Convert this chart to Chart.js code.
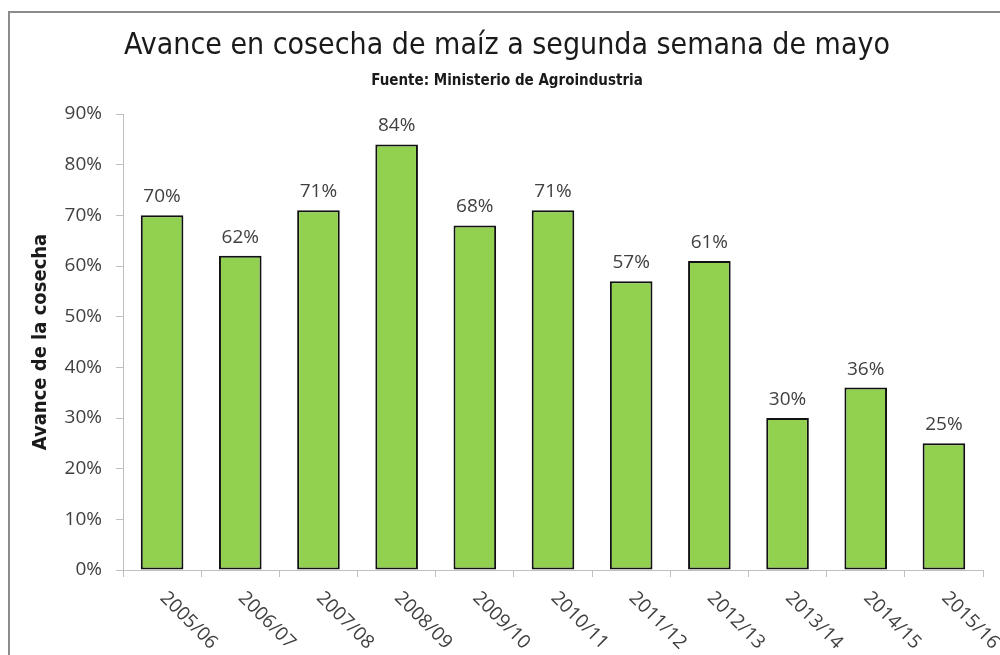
<!DOCTYPE html>
<html>
<head>
<meta charset="utf-8">
<script src="https://cdn.jsdelivr.net/npm/chart.js@4.4.0/dist/chart.umd.min.js"></script>
<style>
  html, body { margin: 0; padding: 0; background: #fff; }
  #wrap { width: 1000px; height: 655px; position: relative; }
</style>
</head>
<body>
<div id="wrap"><canvas id="maizChart"></canvas></div>
<script>
var campanias = ['2005/06', '2006/07', '2007/08', '2008/09', '2009/10', '2010/11', '2011/12', '2012/13', '2013/14', '2014/15', '2015/16'];
var avance = [70, 62, 71, 84, 68, 71, 57, 61, 30, 36, 25];
var yTicks = [0, 10, 20, 30, 40, 50, 60, 70, 80, 90];

var narrow = '"Liberation Sans Narrow", "DejaVu Sans Condensed", "Roboto Condensed", sans-serif';
var textFont = '"Open Sans", "Liberation Sans", sans-serif';
var gris = '#404040';

// marco gris alrededor del grafico
var marco = {
    id: 'marco',
    beforeDraw: function(chart){
        var ctx = chart.ctx;
        ctx.save();
        ctx.strokeStyle = '#8c8c8c';
        ctx.lineWidth = 2;
        ctx.strokeRect(9, 12, 1000, 700);
        ctx.restore();
    }
};

// etiquetas de valor encima de cada barra
var etiquetas = {
    id: 'etiquetas',
    afterDatasetsDraw: function(chart){
        var ctx = chart.ctx;
        var meta = chart.getDatasetMeta(0);
        ctx.save();
        ctx.font = '19px ' + textFont;
        ctx.fillStyle = gris;
        ctx.textAlign = 'center';
        ctx.textBaseline = 'alphabetic';
        meta.data.forEach(function(bar, i){
            ctx.fillText(avance[i] + '%', bar.x, bar.y - 13);
        });
        ctx.restore();
    }
};

// etiquetas del eje x giradas 45 grados hacia abajo
var ejeX = {
    id: 'ejeX',
    afterDraw: function(chart){
        var ctx = chart.ctx;
        var x = chart.scales.x;
        ctx.save();
        ctx.font = '19px ' + textFont;
        ctx.fillStyle = gris;
        ctx.textAlign = 'left';
        ctx.textBaseline = 'middle';
        campanias.forEach(function(lbl, i){
            var px = x.getPixelForValue(i);
            ctx.save();
            ctx.translate(px + 1, x.top + 25);
            ctx.rotate(Math.PI / 4);
            ctx.fillText(lbl, 0, 0);
            ctx.restore();
        });
        ctx.restore();
    }
};

var ctx = document.getElementById('maizChart').getContext('2d');
ctx.canvas.width = 1000;
ctx.canvas.height = 655;

var chart = new Chart(ctx, {
    type: 'bar',
    data: {
        labels: campanias,
        datasets: [{
            label: 'Avance de la cosecha',
            data: avance,
            backgroundColor: '#92D050',
            borderColor: '#111111',
            borderWidth: 2,
            borderSkipped: false,
            categoryPercentage: 1,
            barPercentage: 0.545
        }]
    },
    options: {
        responsive: false,
        maintainAspectRatio: false,
        animation: false,
        layout: { padding: { top: 0, right: 17, bottom: 0, left: 31 } },
        plugins: {
            legend: { display: false },
            tooltip: { enabled: false },
            title: {
                display: true,
                text: 'Avance en cosecha de maíz a segunda semana de mayo',
                color: '#1a1a1a',
                font: { family: narrow, size: 30, weight: 'normal', lineHeight: 1.2 },
                padding: { top: 28, bottom: 0 }
            },
            subtitle: {
                display: true,
                text: 'Fuente: Ministerio de Agroindustria',
                color: '#1a1a1a',
                font: { family: narrow, size: 15, weight: 'bold', lineHeight: 1.2 },
                padding: { top: 8, bottom: 24 }
            }
        },
        scales: {
            x: {
                grid: { offset: true, drawOnChartArea: false, tickLength: 7, color: '#BFBFBF', lineWidth: 1 },
                border: { color: '#BFBFBF', width: 1 },
                ticks: { display: false },
                afterFit: function(scale){ scale.height = 85; }
            },
            y: {
                min: 0,
                max: 90,
                afterBuildTicks: function(scale){
                    scale.ticks = yTicks.map(function(v){ return { value: v }; });
                },
                grid: { drawOnChartArea: false, tickLength: 7, color: '#BFBFBF', lineWidth: 1 },
                border: { color: '#BFBFBF', width: 1 },
                ticks: {
                    padding: 14,
                    color: gris,
                    font: { family: textFont, size: 19 },
                    callback: function(v){ return v + '%'; }
                },
                title: {
                    display: true,
                    text: 'Avance de la cosecha',
                    color: '#1a1a1a',
                    font: { family: narrow, size: 20, weight: 'bold', lineHeight: 1 },
                    padding: { top: 0, bottom: 0 }
                },
                afterFit: function(scale){ scale.width = 92; }
            }
        }
    },
    plugins: [marco, etiquetas, ejeX]
});
</script>
</body>
</html>
